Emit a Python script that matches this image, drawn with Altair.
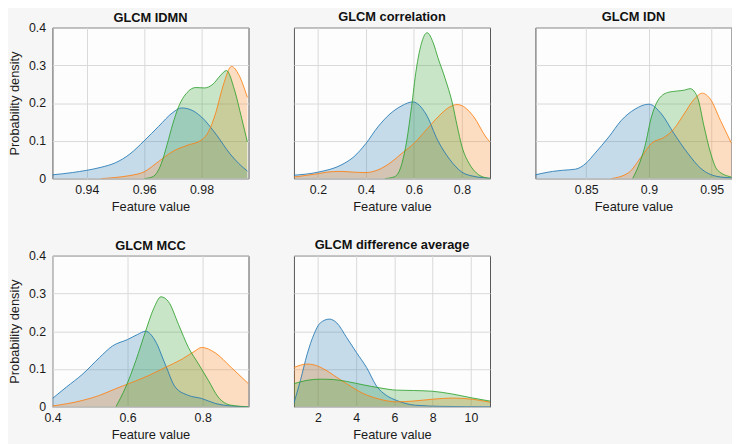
import altair as alt
import pandas as pd

# ---------------- data ----------------
series_names = ["Group 1", "Group 2", "Group 3"]
series_colors = ["#1f77b4", "#ff7f0e", "#2ca02c"]
y_ticks = [0, 0.1, 0.2, 0.3, 0.4]

# Panel 1: GLCM IDMN
idmn_b_x = [0.928, 0.935, 0.94, 0.945, 0.95, 0.955, 0.96, 0.965, 0.97, 0.973, 0.976, 0.98, 0.985, 0.99, 0.993, 0.996]
idmn_b_y = [0.010, 0.016, 0.022, 0.030, 0.042, 0.065, 0.100, 0.138, 0.175, 0.187, 0.183, 0.163, 0.118, 0.065, 0.040, 0.020]
idmn_o_x = [0.945, 0.95, 0.955, 0.96, 0.965, 0.97, 0.975, 0.98, 0.9825, 0.985, 0.9875, 0.9905, 0.993, 0.996]
idmn_o_y = [0.0, 0.003, 0.008, 0.018, 0.045, 0.072, 0.088, 0.102, 0.125, 0.175, 0.245, 0.297, 0.275, 0.215]
idmn_g_x = [0.960, 0.963, 0.966, 0.968, 0.970, 0.972, 0.975, 0.978, 0.981, 0.984, 0.9865, 0.9887, 0.9915, 0.994, 0.996]
idmn_g_y = [0.0, 0.005, 0.040, 0.090, 0.145, 0.190, 0.228, 0.241, 0.240, 0.250, 0.272, 0.286, 0.235, 0.160, 0.097]
idmn_ticks = [0.94, 0.96, 0.98]

# Panel 2: GLCM correlation
corr_b_x = [0.10, 0.2, 0.3, 0.35, 0.4, 0.45, 0.5, 0.55, 0.595, 0.65, 0.7, 0.75, 0.8, 0.85, 0.917]
corr_b_y = [0.009, 0.017, 0.037, 0.058, 0.093, 0.137, 0.171, 0.193, 0.203, 0.171, 0.100, 0.050, 0.017, 0.006, 0.001]
corr_o_x = [0.10, 0.2, 0.25, 0.3, 0.35, 0.4, 0.45, 0.5, 0.55, 0.6, 0.65, 0.7, 0.75, 0.78, 0.8, 0.85, 0.9, 0.917]
corr_o_y = [0.004, 0.013, 0.018, 0.019, 0.017, 0.016, 0.023, 0.041, 0.067, 0.093, 0.128, 0.163, 0.190, 0.196, 0.193, 0.163, 0.110, 0.097]
corr_g_x = [0.48, 0.52, 0.55, 0.57, 0.59, 0.61, 0.63, 0.655, 0.68, 0.70, 0.73, 0.76, 0.78, 0.80, 0.83, 0.86, 0.90, 0.917]
corr_g_y = [0.0, 0.005, 0.040, 0.100, 0.190, 0.290, 0.355, 0.386, 0.360, 0.320, 0.265, 0.200, 0.140, 0.085, 0.040, 0.015, 0.002, 0.0]
corr_ticks = [0.2, 0.4, 0.6, 0.8]

# Panel 3: GLCM IDN
idn_b_x = [0.8096, 0.8232, 0.8311, 0.8416, 0.85, 0.857, 0.868, 0.878, 0.889, 0.9, 0.91, 0.92, 0.931, 0.941, 0.954, 0.9658]
idn_b_y = [0.010, 0.019, 0.022, 0.025, 0.041, 0.067, 0.110, 0.154, 0.184, 0.197, 0.171, 0.119, 0.067, 0.028, 0.006, 0.002]
idn_o_x = [0.87, 0.8836, 0.894, 0.902, 0.9125, 0.920, 0.928, 0.936, 0.9426, 0.949, 0.957, 0.9658]
idn_o_y = [0.0, 0.015, 0.058, 0.093, 0.110, 0.132, 0.171, 0.210, 0.226, 0.210, 0.154, 0.093]
idn_g_x = [0.887, 0.8915, 0.8967, 0.902, 0.907, 0.915, 0.923, 0.928, 0.9329, 0.9387, 0.944, 0.9492, 0.9545, 0.9658]
idn_g_y = [0.0, 0.032, 0.084, 0.163, 0.206, 0.228, 0.232, 0.234, 0.238, 0.215, 0.137, 0.067, 0.023, 0.004]
idn_ticks = [0.85, 0.9, 0.95]

# Panel 4: GLCM MCC
mcc_b_x = [0.4, 0.437, 0.481, 0.525, 0.56, 0.6, 0.626, 0.648, 0.674, 0.70, 0.727, 0.762, 0.797, 0.833, 0.876, 0.922]
mcc_b_y = [0.022, 0.052, 0.087, 0.130, 0.161, 0.178, 0.191, 0.200, 0.174, 0.113, 0.052, 0.030, 0.022, 0.009, 0.002, 0.0]
mcc_o_x = [0.4, 0.481, 0.525, 0.569, 0.613, 0.657, 0.70, 0.745, 0.78, 0.797, 0.833, 0.876, 0.922]
mcc_o_y = [0.002, 0.017, 0.030, 0.048, 0.065, 0.083, 0.104, 0.126, 0.148, 0.157, 0.143, 0.104, 0.061]
mcc_g_x = [0.569, 0.595, 0.622, 0.648, 0.67, 0.689, 0.709, 0.736, 0.762, 0.789, 0.815, 0.841, 0.876, 0.922]
mcc_g_y = [0.0, 0.052, 0.122, 0.200, 0.261, 0.291, 0.278, 0.217, 0.157, 0.113, 0.070, 0.026, 0.004, 0.0]
mcc_ticks = [0.4, 0.6, 0.8]

# Panel 5: GLCM difference average
diff_b_x = [0.74, 1.08, 1.43, 1.78, 2.12, 2.6, 2.98, 3.5, 4.02, 4.54, 5.06, 5.58, 6.1, 7.1, 8.5, 11.0]
diff_b_y = [0.010, 0.070, 0.139, 0.191, 0.222, 0.232, 0.222, 0.183, 0.143, 0.104, 0.055, 0.030, 0.017, 0.004, 0.001, 0.0]
diff_o_x = [0.74, 1.43, 1.78, 2.3, 2.98, 3.5, 4.37, 5.23, 6.1, 6.96, 8.0, 9.03, 10.07, 11.0]
diff_o_y = [0.104, 0.113, 0.111, 0.100, 0.078, 0.061, 0.035, 0.020, 0.013, 0.015, 0.020, 0.023, 0.020, 0.012]
diff_g_x = [0.74, 1.43, 2.12, 2.81, 3.5, 4.37, 5.23, 6.1, 7.0, 8.0, 9.0, 10.0, 11.0]
diff_g_y = [0.061, 0.070, 0.073, 0.072, 0.067, 0.058, 0.050, 0.044, 0.043, 0.041, 0.034, 0.024, 0.015]
diff_ticks = [2, 4, 6, 8, 10]

panels = [
    ("GLCM IDMN", [(idmn_b_x, idmn_b_y), (idmn_o_x, idmn_o_y), (idmn_g_x, idmn_g_y)], [0.928, 0.9964], idmn_ticks, True),
    ("GLCM correlation", [(corr_b_x, corr_b_y), (corr_o_x, corr_o_y), (corr_g_x, corr_g_y)], [0.10, 0.917], corr_ticks, False),
    ("GLCM IDN", [(idn_b_x, idn_b_y), (idn_o_x, idn_o_y), (idn_g_x, idn_g_y)], [0.8096, 0.9658], idn_ticks, False),
    ("GLCM MCC", [(mcc_b_x, mcc_b_y), (mcc_o_x, mcc_o_y), (mcc_g_x, mcc_g_y)], [0.40, 0.922], mcc_ticks, True),
    ("GLCM difference average", [(diff_b_x, diff_b_y), (diff_o_x, diff_o_y), (diff_g_x, diff_g_y)], [0.74, 11.0], diff_ticks, False),
]

FONT = "Liberation Sans"


def make_panel(title, curves, xdomain, xticks, show_y):
    rows = []
    for name, (xs, ys) in zip(series_names, curves):
        for xv, yv in zip(xs, ys):
            rows.append({"x": xv, "y": yv, "series": name})
    df = pd.DataFrame(rows)
    x = alt.X("x:Q",
              scale=alt.Scale(domain=xdomain, nice=False, zero=False),
              axis=alt.Axis(values=xticks, format="~f", title="Feature value"))
    if show_y:
        yaxis = alt.Axis(values=y_ticks, format="~f", title="Probability density")
    else:
        yaxis = alt.Axis(values=y_ticks, labels=False, title=None)
    y = alt.Y("y:Q", stack=None, scale=alt.Scale(domain=[0, 0.4], nice=False), axis=yaxis)
    color = alt.Color("series:N", scale=alt.Scale(domain=series_names, range=series_colors), legend=None)
    base = alt.Chart(df)
    area = base.mark_area(fillOpacity=0.25, interpolate="monotone", clip=True).encode(x=x, y=y, color=color)
    line = base.mark_line(strokeWidth=1, strokeOpacity=0.85, interpolate="monotone", clip=True).encode(x=x, y=y, color=color)
    # the y-axis label "0.4" raises the bounds of panels with y labels; compensate
    title_params = alt.TitleParams(text=title, offset=-3.5 if show_y else 3.25)
    return alt.layer(area, line).properties(title=title_params, width=198.5, height=153)


charts = [make_panel(*p) for p in panels]

chart = alt.concat(*charts, columns=3, spacing={"row": 78, "column": 45.5}, bounds="flush").properties(
    padding={"left": 0, "top": 0, "right": 0, "bottom": 0},
    background="#f6f6f6",
).configure_view(
    fill="#fdfdfd", stroke="#555555", strokeWidth=1
).configure_axis(
    domain=False, ticks=False, grid=True, gridColor="#d9d9d9", gridWidth=1,
    labelFont=FONT, labelFontSize=12.5, labelColor="#1a1a1a", labelFlush=False,
    titleFont=FONT, titleFontSize=13, titleFontWeight="normal", titleColor="#1a1a1a",
).configure_axisX(
    labelPadding=5, titlePadding=5
).configure_axisY(
    labelPadding=7, titlePadding=7
).configure_title(
    font=FONT, fontSize=13, fontWeight="bold", color="#111111", anchor="middle"
)

chart.save("out.html", embed_options={"renderer": "svg", "actions": False})
